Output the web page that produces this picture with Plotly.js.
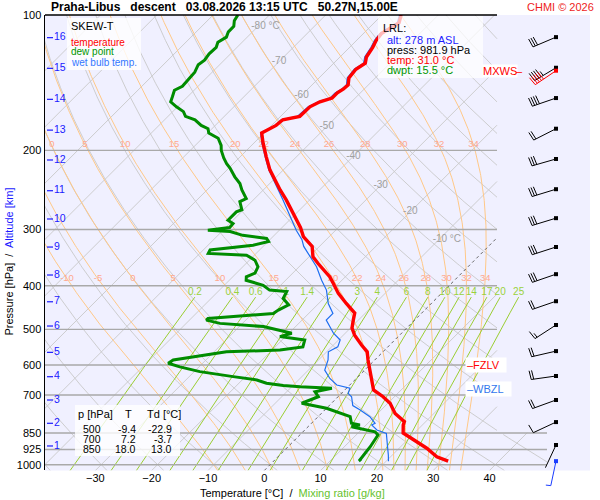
<!DOCTYPE html>
<html>
<head>
<meta charset="utf-8">
<script src="https://cdn.plot.ly/plotly-3.0.1.min.js"></script>
<style>
  html, body { margin: 0; padding: 0; background: #fff; }
  #chart { width: 600px; height: 500px; }
</style>
</head>
<body>
<div id="chart"></div>
<script>
// ── sounding data ─────────────────────────────────────────────────────────────

const tempP = [982, 960, 919, 889, 859, 850, 816, 802, 769, 730, 706, 682, 648, 616, 585, 561,
  542, 515, 497, 477, 460, 438, 416, 395, 382, 357, 345, 327, 311, 297, 276, 258, 245, 221, 207,
  193, 183, 176, 171, 168, 160, 156, 153, 149, 146, 143, 138, 132, 128, 124, 118, 114, 110, 107, 104, 100];
const tempT = [31.0, 28.2, 24.9, 22.0, 19.0, 18.0, 16.6, 16.2, 13.1, 10.4, 8.0, 5.1, 3.0, 0.9, -1.2, -2.8,
  -5.0, -8.0, -9.7, -10.9, -11.9, -15.1, -18.3, -21.0, -22.8, -27.2, -29.3, -31.3, -34.6, -36.7, -40.5,
  -44.1, -47.0, -52.4, -55.3, -58.3, -60.4, -59.2, -59.0, -56.6, -56.5, -55.6, -54.1, -54.1, -53.7,
  -53.6, -54.7, -55.0, -54.4, -55.3, -55.9, -56.5, -56.8, -56.2, -55.6, -56.6];

const dewP = [982, 976, 912, 859, 845, 823, 816, 809, 782, 769, 749, 730, 706, 688, 676, 671, 667,
  659, 648, 637, 621, 606, 595, 585, 570, 561, 556, 547, 528, 519, 510, 502, 493, 485, 477, 473,
  461, 453, 441, 427, 412, 409, 399, 389, 382, 375, 363, 351, 342, 339, 333, 325, 319, 314, 309,
  303, 301, 297, 291, 286, 281, 274, 271, 260, 256, 245, 237, 229, 219, 214, 208, 200, 195, 188,
  183, 179, 176, 171, 168, 164, 160, 156, 152, 147, 144, 138, 134, 129, 126, 122, 118, 115, 112,
  109, 106, 103, 100];
const dewT = [15.5, 15.1, 14.6, 13.9, 12.8, 7.7, 8.9, 7.1, 5.7, 3.6, 0.0, -5.3, -3.5, -5.0, -2.6,
  -8.5, -11.7, -15.1, -17.4, -22.2, -29.0, -33.4, -36.1, -35.8, -30.8, -27.8, -18.6, -15.1, -16.0,
  -21.0, -19.5, -22.2, -25.7, -34.0, -37.0, -37.0, -26.3, -26.0, -25.1, -27.2, -27.8, -31.1, -33.1,
  -37.0, -37.6, -36.7, -37.3, -39.0, -41.4, -48.5, -48.8, -42.0, -39.9, -40.8, -45.6, -48.5, -52.7,
  -49.3, -49.4, -50.9, -50.9, -50.9, -50.3, -52.1, -51.5, -53.8, -55.3, -57.4, -59.8, -61.2, -62.7,
  -64.5, -65.4, -67.2, -69.8, -70.7, -72.5, -74.6, -76.9, -78.1, -80.2, -82.1, -82.7, -83.5, -82.8,
  -82.9, -83.1, -83.8, -83.5, -83.8, -83.7, -84.3, -83.7, -84.3, -84.3, -85.2, -85.6];

const wetP = [982, 952, 896, 852, 837, 816, 809, 782, 756, 739, 706, 694, 676, 665, 643, 616, 585,
  561, 547, 528, 510, 493, 477, 461, 438, 409, 389, 363, 342, 327, 316, 301, 258, 245, 221, 207,
  193, 183, 176, 171, 168, 160, 156, 153, 149, 146, 143, 138, 132, 128, 124, 118, 114, 110, 107, 104, 100];
const wetT = [20.4, 19.3, 17.0, 15.1, 12.8, 11.0, 11.3, 9.2, 6.3, 4.2, 2.4, 1.2, 0.6, -2.3, -4.7,
  -7.1, -8.3, -9.7, -8.9, -9.7, -12.1, -13.9, -15.7, -15.7, -18.3, -21.0, -23.6, -26.9, -30.2,
  -32.8, -34.3, -37.0, -44.7, -47.3, -52.6, -55.5, -58.5, -60.6, -59.4, -59.3, -57.0, -56.8, -55.9,
  -54.5, -54.5, -54.0, -53.9, -55.0, -55.3, -54.7, -55.6, -56.2, -56.8, -57.1, -56.5, -55.9, -56.9];

// wind (direction deg, speed kt)
const barbP   = [904, 804, 718, 635, 559, 489, 433, 377, 328, 283, 244, 209, 179, 153, 131, 112];
const barbDir = [205, 245, 250, 262, 257, 237, 251, 251, 252, 253, 253, 254, 243, 251, 239, 247];
const barbSpd = [3, 10, 20, 20, 20, 15, 20, 30, 30, 30, 30, 30, 20, 40, 45, 30];
const maxWindP = 133, maxWindDir = 236, maxWindSpd = 50;
const sfcWindP = 982, sfcWindDir = 192, sfcWindSpd = 5;

const altKm = [1, 2, 3, 4, 5, 6, 7, 8, 9, 10, 11, 12, 13, 14, 15, 16];
const altP  = [908.6, 809.0, 718.0, 637.3, 562.6, 491.6, 434.2, 378.6, 328.1, 284.2, 245.9,
  210.1, 180.3, 154.0, 131.4, 112.3];

const tableP  = [500, 700, 850];
const tableT  = [-9.4, 7.2, 18.0];
const tableTd = [-22.9, -3.7, 13.0];

const lrlAlt = 278, lrlPress = 981.9, lrlTemp = 31.0, lrlDwpt = 15.5;
const fzlvP = 600, wbzlP = 679;

// diagram reference lines
const isotherms = [-120, -110, -100, -90, -80, -70, -60, -50, -40, -30, -20, -10, 0, 10, 20, 30, 40];
const dryAdiabats = [-40, -30, -20, -10, 0, 10, 20, 30, 40, 50, 60, 70, 80, 90, 100, 110, 120,
  130, 140, 150, 160, 170, 180];
const moistAdiabats = [-10, -5, 0, 5, 10, 15, 20, 22, 24, 26, 28, 30, 32, 34];
const mixingRatios = [0.2, 0.4, 0.6, 1, 1.4, 2, 3, 4, 6, 8, 10, 12, 14, 17, 20, 25];
const isoLabels = [-80, -70, -60, -50, -40, -30, -20, -10];
const pressureLevels = [200, 300, 400, 500, 600, 700, 850, 925, 1000];
const pressureTicks = [100, 200, 300, 400, 500, 600, 700, 850, 925, 1000];
const tempTicks = [-30, -20, -10, 0, 10, 20, 30, 40];

// ── geometry ─────────────────────────────────────────────────────────────────

const FONT = 'Liberation Sans, Arial, Helvetica, sans-serif';
const PX_LEFT = 45, PX_RIGHT = 590, PX_TOP = 15, PX_BOTTOM = 490;
const P_BOTTOM = 1030, P_TOP = 100;
const PX_PER_DEC = 449.7, PX_PER_C = 5.63, PX_ZERO = 264.3;
const SKEW = PX_PER_DEC / PX_PER_C;   // 45 degree isotherms
const DIAG_RIGHT = 497, DIAG_RIGHT_LOW = 547;

function pToPx(p) { return PX_TOP + PX_PER_DEC * (Math.log10(p) - 2); }
function pxToX(px) { return (px - PX_ZERO) / PX_PER_C; }
function paperX(px) { return (px - PX_LEFT) / (PX_RIGHT - PX_LEFT); }
function paperY(py) { return (PX_BOTTOM - py) / (PX_BOTTOM - PX_TOP); }
function skewX(t, p) { return t + SKEW * Math.log10(P_BOTTOM / p); }
function rightBound(p) { return p >= 849 ? pxToX(DIAG_RIGHT_LOW) : pxToX(DIAG_RIGHT); }

const sampleP = [];
for (let lp = Math.log10(P_BOTTOM); lp > 2; lp -= 0.004) sampleP.push(Math.pow(10, lp));
sampleP.push(P_TOP);

// ── thermodynamics for the background curves ────────────────────────────────

const RD = 287.04, CP = 1005.7, LV = 2.501e6, EPS = 0.622;

function esat(tc) { return 6.112 * Math.exp(17.67 * tc / (tc + 243.5)); }

function moistLapse(p, tk) {
  const e = esat(tk - 273.15);
  const rs = EPS * e / (p - e);
  return (RD * tk + LV * rs) / (CP + LV * LV * rs * EPS / (RD * tk * tk)) / p;
}

function rk4(p, tk, h) {
  const k1 = moistLapse(p, tk);
  const k2 = moistLapse(p + h / 2, tk + h / 2 * k1);
  const k3 = moistLapse(p + h / 2, tk + h / 2 * k2);
  const k4 = moistLapse(p + h, tk + h * k3);
  return tk + h / 6 * (k1 + 2 * k2 + 2 * k3 + k4);
}

function moistAdiabat(thw) {
  const res = sampleP.map(function () { return NaN; });
  const i0 = sampleP.findIndex(function (p) { return p <= 1000; });
  let tk = thw + 273.15, p = 1000;
  for (let i = i0; i < sampleP.length; i++) {
    tk = rk4(p, tk, sampleP[i] - p); p = sampleP[i]; res[i] = tk - 273.15;
  }
  tk = thw + 273.15; p = 1000;
  for (let i = i0 - 1; i >= 0; i--) {
    tk = rk4(p, tk, sampleP[i] - p); p = sampleP[i]; res[i] = tk - 273.15;
  }
  return res;
}

function interpAt(arr, p) {
  for (let i = 0; i < sampleP.length - 1; i++) {
    if (sampleP[i] >= p && sampleP[i + 1] <= p) {
      const f = Math.log(sampleP[i] / p) / Math.log(sampleP[i] / sampleP[i + 1]);
      return arr[i] + f * (arr[i + 1] - arr[i]);
    }
  }
  return NaN;
}

function dewFromMix(r, p) {
  const l = Math.log(r * p / (622 + r) / 6.112);
  return 243.5 * l / (17.67 - l);
}

function pushClipped(xs, ys, X, P) {
  let prevIn = false;
  for (let i = 0; i < X.length; i++) {
    const inside = X[i] <= rightBound(P[i]);
    if (i > 0 && inside !== prevIn) {
      const bb = rightBound(inside ? P[i] : P[i - 1]);
      let f = (bb - X[i - 1]) / (X[i] - X[i - 1]);
      f = Math.max(0, Math.min(1, f));
      xs.push(X[i - 1] + f * (X[i] - X[i - 1]));
      ys.push(Math.exp(Math.log(P[i - 1]) + f * (Math.log(P[i]) - Math.log(P[i - 1]))));
      if (!inside) { xs.push(null); ys.push(null); }
    }
    if (inside) { xs.push(X[i]); ys.push(P[i]); }
    prevIn = inside;
  }
  xs.push(null); ys.push(null);
}

// ── background traces ────────────────────────────────────────────────────────

const traces = [];
function lineTrace(xs, ys, color, width, extra) {
  return Object.assign({ type: 'scatter', mode: 'lines', x: xs, y: ys, xaxis: 'x', yaxis: 'y',
    line: { color: color, width: width }, hoverinfo: 'skip' }, extra || {});
}

(function () {
  const xs = [], ys = [];
  isotherms.forEach(function (t) {
    if (t === 0) return;
    pushClipped(xs, ys, sampleP.map(function (p) { return skewX(t, p); }), sampleP);
  });
  traces.push(lineTrace(xs, ys, '#c8c8c8', 0.9));
})();

(function () {
  const xs = [], ys = [];
  dryAdiabats.forEach(function (th) {
    const X = sampleP.map(function (p) {
      return skewX((th + 273.15) * Math.pow(p / 1000, RD / CP) - 273.15, p);
    });
    pushClipped(xs, ys, X, sampleP);
  });
  traces.push(lineTrace(xs, ys, '#c8c8c8', 0.9));
})();

const moistCurves = moistAdiabats.map(moistAdiabat);
(function () {
  const xs = [], ys = [];
  moistCurves.forEach(function (c) {
    pushClipped(xs, ys, c.map(function (t, i) { return skewX(t, sampleP[i]); }), sampleP);
  });
  traces.push(lineTrace(xs, ys, '#ffc887', 1));
})();

const MIX_TOP = 424;
(function () {
  const xs = [], ys = [];
  const ps = sampleP.filter(function (p) { return p >= MIX_TOP; }).concat([MIX_TOP]);
  mixingRatios.forEach(function (r) {
    ps.forEach(function (p) { xs.push(skewX(dewFromMix(r, p), p)); ys.push(p); });
    xs.push(null); ys.push(null);
  });
  traces.push(lineTrace(xs, ys, '#9acd32', 1));
})();

(function () {
  const xs = [], ys = [];
  pressureLevels.forEach(function (p) {
    xs.push(pxToX(PX_LEFT), p >= 850 ? pxToX(DIAG_RIGHT_LOW) : pxToX(DIAG_RIGHT), null);
    ys.push(p, p, null);
  });
  traces.push(lineTrace(xs, ys, '#a9a9a9', 1.4));
})();

(function () {
  const xs = [], ys = [];
  pushClipped(xs, ys, sampleP.map(function (p) { return skewX(0, p); }), sampleP);
  traces.push(lineTrace(xs, ys, '#666666', 1, { line: { color: '#666666', width: 1, dash: 'dot' } }));
})();

// labels of the background lines
function textTrace(xs, ys, texts, color, size, pos) {
  return { type: 'scatter', mode: 'text', x: xs, y: ys, text: texts, xaxis: 'x', yaxis: 'y',
    textposition: pos || 'middle center', textfont: { family: FONT, size: size, color: color },
    hoverinfo: 'skip' };
}

(function () {
  const levels = [106, 127, 151, 177, 206, 239, 274, 315];
  const xs = [], ys = [], tx = [];
  isoLabels.forEach(function (t, i) {
    const withUnit = (t === -80 || t === -10);
    xs.push(skewX(t, levels[i]) + (withUnit ? 7.5 / PX_PER_C : 0));
    ys.push(levels[i]);
    tx.push(withUnit ? t + ' °C' : String(t));
  });
  traces.push(textTrace(xs, ys, tx, '#a0a0a0', 10));
})();

(function () {
  const xs = [], ys = [], tx = [];
  [194.6, 386.5].forEach(function (lp) {
    moistCurves.forEach(function (c, i) {
      const x = skewX(interpAt(c, lp), lp);
      if (x < pxToX(PX_LEFT - 12) || x > pxToX(DIAG_RIGHT - 4)) return;
      xs.push(Math.max(x, pxToX(PX_LEFT + 7))); ys.push(lp); tx.push(String(moistAdiabats[i]));
    });
  });
  traces.push(textTrace(xs, ys, tx, '#ffa890', 9.5));
})();

(function () {
  const xs = [], ys = [], tx = [];
  mixingRatios.forEach(function (r) {
    xs.push(skewX(dewFromMix(r, MIX_TOP), MIX_TOP)); ys.push(MIX_TOP); tx.push(String(r));
  });
  traces.push(textTrace(xs, ys, tx, '#9ad23c', 10, 'top center'));
})();

// ── profiles ─────────────────────────────────────────────────────────────────

function profile(ps, ts, color, width) {
  return lineTrace(ts.map(function (t, i) { return skewX(t, ps[i]); }), ps, color, width);
}
traces.push(profile(wetP, wetT, '#1e6ef0', 1.2));
traces.push(profile(dewP, dewT, '#008c00', 3));
traces.push(profile(tempP, tempT, '#ff0000', 3.4));

// ── pixel overlay: wind barbs and altitude scale ─────────────────────────────

const BARB_X = 556, STAFF = 25, BARB_FULL = 9, BARB_HALF = 5, BARB_GAP = 2.5, BARB_ANGLE = 84;

function barbLines(p, dir, spd, xs, ys) {
  const cx = BARB_X, cy = pToPx(p);
  const r = dir * Math.PI / 180;
  const ux = Math.sin(r), uy = -Math.cos(r);
  const tx = cx + ux * STAFF, ty = cy + uy * STAFF;
  xs.push(cx, tx, null); ys.push(cy, ty, null);
  const a = BARB_ANGLE * Math.PI / 180;
  const bx = ux * Math.cos(a) - uy * Math.sin(a);
  const by = ux * Math.sin(a) + uy * Math.cos(a);
  const full = Math.floor(spd / 10);
  const half = Math.floor((spd % 10) / 5);
  for (let i = 0; i < full + half; i++) {
    const len = i < full ? BARB_FULL : BARB_HALF;
    const sx = tx - ux * i * BARB_GAP, sy = ty - uy * i * BARB_GAP;
    xs.push(sx, sx + bx * len, null); ys.push(sy, sy + by * len, null);
  }
}

function pxTrace(xs, ys, color, width, extra) {
  return Object.assign({ type: 'scatter', mode: 'lines', x: xs, y: ys, xaxis: 'x2', yaxis: 'y2',
    line: { color: color, width: width }, hoverinfo: 'skip' }, extra || {});
}

(function () {
  const xs = [], ys = [];
  barbP.forEach(function (p, i) { barbLines(p, barbDir[i], barbSpd[i], xs, ys); });
  traces.push(pxTrace(xs, ys, '#000000', 1));
  traces.push(pxTrace(barbP.map(function () { return BARB_X; }), barbP.map(pToPx), '#000', 1,
    { mode: 'markers', marker: { symbol: 'square', size: 4, color: '#000' } }));

  const mx = [], my = [];
  barbLines(maxWindP, maxWindDir, maxWindSpd, mx, my);
  traces.push(pxTrace(mx, my, '#ff0000', 1));
  traces.push(pxTrace([BARB_X], [pToPx(maxWindP)], '#ff0000', 1,
    { mode: 'markers', marker: { symbol: 'square', size: 4, color: '#ff0000' } }));

  const sx = [], sy = [];
  barbLines(sfcWindP, sfcWindDir, sfcWindSpd, sx, sy);
  traces.push(pxTrace(sx, sy, '#1a3cff', 1));
  traces.push(pxTrace([BARB_X], [pToPx(sfcWindP)], '#1a3cff', 1,
    { mode: 'markers', marker: { symbol: 'square', size: 4, color: '#1a3cff' } }));
})();

(function () {
  const xs = [], ys = [];
  altP.forEach(function (p) { xs.push(47, 53, null); ys.push(pToPx(p), pToPx(p), null); });
  traces.push(pxTrace(xs, ys, '#1a1aff', 1.2));
  traces.push({ type: 'scatter', mode: 'text', xaxis: 'x2', yaxis: 'y2',
    x: altP.map(function () { return 54; }), y: altP.map(pToPx), text: altKm.map(String),
    textposition: 'middle right', textfont: { family: FONT, size: 10.5, color: '#1a1aff' },
    hoverinfo: 'skip' });
})();

// ── boxes and texts ──────────────────────────────────────────────────────────

function box(x0, y0, x1, y1, fill) {
  return { type: 'rect', xref: 'paper', yref: 'paper', x0: paperX(x0), x1: paperX(x1),
    y0: paperY(y1), y1: paperY(y0), fillcolor: fill, line: { width: 0 }, layer: 'above' };
}

function note(px, py, text, color, size, extra) {
  return Object.assign({ xref: 'paper', yref: 'paper', x: paperX(px), y: paperY(py), text: text,
    showarrow: false, xanchor: 'left', yanchor: 'middle', borderpad: 0,
    font: { family: FONT, size: size, color: color } }, extra || {});
}

const shapes = [
  { type: 'rect', xref: 'paper', yref: 'paper', x0: 0, x1: 1, y0: paperY(pToPx(P_BOTTOM)), y1: 1,
    fillcolor: '#f0f0ff', line: { width: 0 }, layer: 'below' },
  { type: 'line', xref: 'paper', yref: 'paper', x0: 0, x1: paperX(DIAG_RIGHT), y0: 1, y1: 1,
    line: { color: '#000', width: 1.5 }, layer: 'above' },
  box(67, 18, 141, 70, 'rgba(255,255,255,0.8)'),
  box(378, 16, 483, 78, 'rgba(255,255,255,0.72)'),
  box(75, 405, 180, 456, 'rgba(255,255,255,0.8)')
];

const NB = '\u00A0';
const annotations = [
  note(50, 7, '<b>Praha-Libus' + NB + NB + ' descent' + NB + NB + ' 03.08.2026 13:15 UTC' +
    NB + NB + ' 50.27N,15.00E</b>', '#000', 12),
  note(595, 7, 'CHMI © 2026', '#ee1c1c', 11, { xanchor: 'right' }),

  note(70, 26.5, 'SKEW-T', '#000', 11),
  note(70, 42, 'temperature', '#ff0000', 10),
  note(70, 52, 'dew point', '#009600', 10),
  note(70, 62, 'wet bulb temp.', '#3377ff', 10),

  note(382, 28, 'LRL:', '#000', 11),
  note(386, 40, 'alt: ' + lrlAlt + ' m ASL', '#1a1aff', 11),
  note(386, 50, 'press: ' + lrlPress.toFixed(1) + ' hPa', '#000', 11),
  note(386, 60, 'temp: ' + lrlTemp.toFixed(1) + ' °C', '#ff0000', 11),
  note(386, 70, 'dwpt: ' + lrlDwpt.toFixed(1) + ' °C', '#009600', 11),

  note(95, 414, 'p [hPa]', '#000', 11, { xanchor: 'center' }),
  note(128, 414, 'T', '#000', 11, { xanchor: 'center' }),
  note(163.5, 414, 'Td [°C]', '#000', 11, { xanchor: 'center' }),

  note(482, pToPx(maxWindP), 'MXWS', '#ff0000', 11, { bgcolor: '#ffffff' }),
  note(515, pToPx(maxWindP), '\u2013', '#ff0000', 11),
  note(465, pToPx(fzlvP), '\u2013FZLV' + NB + NB, '#ff0000', 11, { bgcolor: '#ffffff', borderpad: 1 }),
  note(465, pToPx(wbzlP), '\u2013WBZL' + NB + NB, '#3377ee', 11, { bgcolor: '#ffffff', borderpad: 1 }),

  note(292, 493, 'Temperature [°C]' + NB + ' /' + NB + ' <span style="color:#66c22e">Mixing ratio [g/kg]</span>',
    '#000', 11, { xanchor: 'center' }),
  note(8, 261.5, 'Pressure [hPa]' + NB + ' /' + NB + ' <span style="color:#1a1aff">Altitude [km]</span>',
    '#000', 11, { xanchor: 'center', textangle: -90 })
];

[428.5, 438.5, 448.5].forEach(function (py, i) {
  annotations.push(note(102, py, String(tableP[i]), '#000', 10.5, { xanchor: 'right' }));
  annotations.push(note(137, py, tableT[i].toFixed(1), '#000', 10.5, { xanchor: 'right' }));
  annotations.push(note(173, py, tableTd[i].toFixed(1), '#000', 10.5, { xanchor: 'right' }));
});

const layout = {
  width: 600, height: 500,
  margin: { l: PX_LEFT, r: 600 - PX_RIGHT, t: PX_TOP, b: 500 - PX_BOTTOM, pad: 0 },
  paper_bgcolor: '#ffffff',
  plot_bgcolor: 'rgba(0,0,0,0)',
  showlegend: false,
  hovermode: false,
  font: { family: FONT, size: 11, color: '#000' },
  xaxis: { domain: [0, 1], range: [pxToX(PX_LEFT), pxToX(PX_RIGHT)], anchor: 'y',
    tickvals: tempTicks, ticks: '', showgrid: false, zeroline: false, showline: false,
    tickfont: { family: FONT, size: 11, color: '#000' }, fixedrange: true },
  yaxis: { type: 'log', domain: [paperY(pToPx(P_BOTTOM)), 1],
    range: [Math.log10(P_BOTTOM), Math.log10(P_TOP)], anchor: 'x',
    tickvals: pressureTicks, ticktext: pressureTicks.map(String), ticks: '',
    showgrid: false, zeroline: false, showline: true, linecolor: '#000', linewidth: 1.5,
    tickfont: { family: FONT, size: 11, color: '#000' }, fixedrange: true },
  xaxis2: { domain: [0, 1], range: [PX_LEFT, PX_RIGHT], anchor: 'y2', visible: false, fixedrange: true },
  yaxis2: { domain: [0, 1], range: [PX_BOTTOM, PX_TOP], anchor: 'x2', visible: false, fixedrange: true },
  shapes: shapes,
  annotations: annotations
};

Plotly.newPlot('chart', traces, layout, { displayModeBar: false, staticPlot: true });
</script>
</body>
</html>
